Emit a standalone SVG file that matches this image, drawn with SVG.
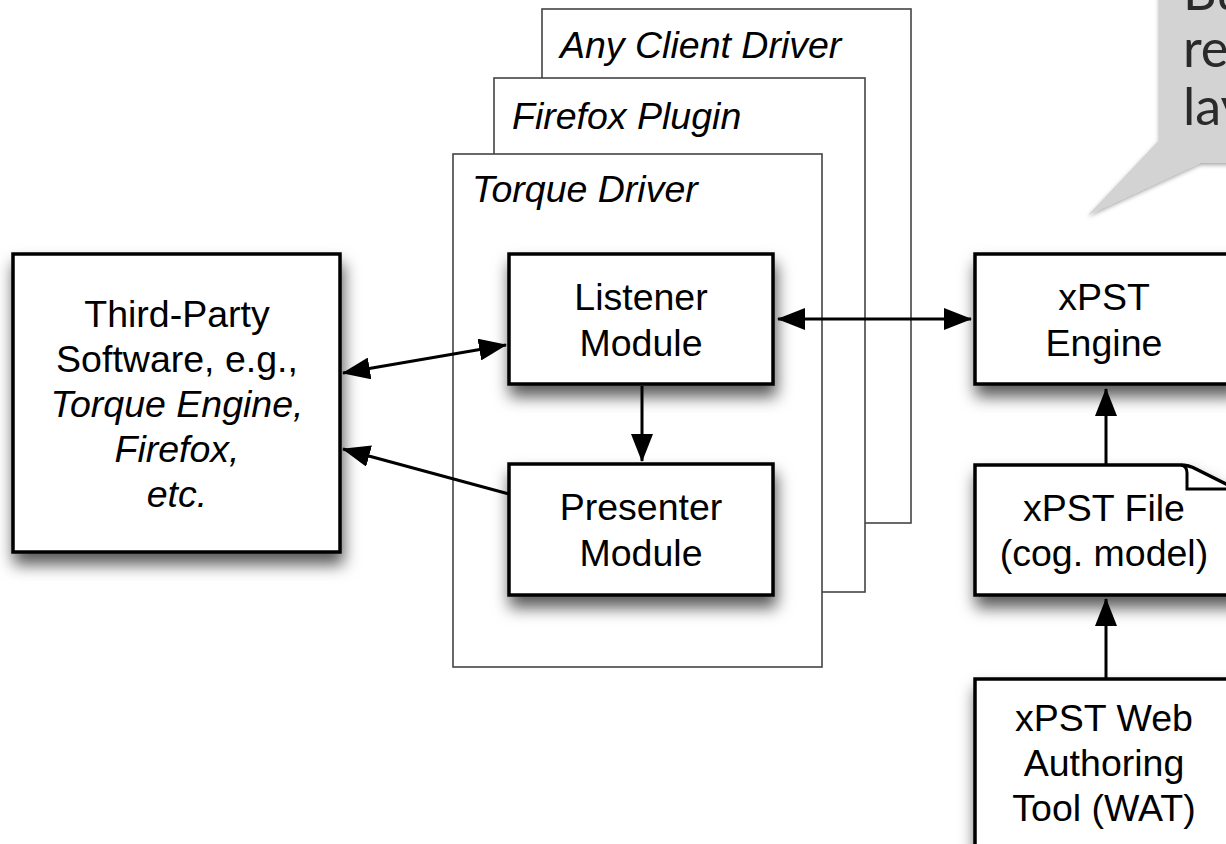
<svg xmlns="http://www.w3.org/2000/svg" width="1226" height="844" viewBox="0 0 1226 844">
<style>
.box{fill:#fff;stroke:#000;stroke-width:3.5}
.frame{fill:#fff;stroke:#444;stroke-width:1.6}
.t{font-family:"Liberation Sans",Arial,sans-serif;font-size:37.5px;fill:#000;text-anchor:middle}
.i{font-style:italic}
.fl{font-family:"Liberation Sans",Arial,sans-serif;font-size:37.5px;font-style:italic;fill:#000}
.conn{stroke:#000;stroke-width:3;fill:none}
.call{font-family:Lato,"Open Sans",sans-serif;font-size:52px;fill:#2a2a2a}
</style>
<defs>
<filter id="sh" x="-20%" y="-20%" width="150%" height="170%">
<feDropShadow dx="2" dy="11" stdDeviation="8" flood-color="#000" flood-opacity="0.65"/>
</filter>
<filter id="sh2" x="-20%" y="-20%" width="150%" height="160%">
<feDropShadow dx="0" dy="2" stdDeviation="2" flood-color="#000" flood-opacity="0.35"/>
</filter>
<marker id="ah" viewBox="0 0 28 22" refX="27" refY="11" markerWidth="28" markerHeight="22" markerUnits="userSpaceOnUse" orient="auto-start-reverse">
<path d="M0,0 L28,11 L0,22 z" fill="#000"/>
</marker>
</defs>
<rect width="1226" height="844" fill="#fff"/>

<g id="callout">
<path d="M1159,-10 H1240 V163 H1200 L1088,215 L1159,140 Z" fill="#d3d3d3" filter="url(#sh2)"/>
<text class="call" x="1183" y="10">Bu</text>
<text class="call" x="1183" y="67">re</text>
<text class="call" x="1183" y="125">lay</text>
</g>

<g id="any-client-driver">
<rect class="frame" x="542" y="9" width="369" height="514"/>
<text class="fl" x="560" y="58">Any Client Driver</text>
</g>
<g id="firefox-plugin">
<rect class="frame" x="494" y="78" width="371" height="514"/>
<text class="fl" x="512" y="129">Firefox Plugin</text>
</g>
<g id="torque-driver">
<rect class="frame" x="453" y="154" width="369" height="513"/>
<text class="fl" x="472" y="202">Torque Driver</text>
</g>

<g id="third-party">
<rect class="box" x="13" y="254" width="327" height="298" filter="url(#sh)"/>
<text class="t" x="177" y="327">Third-Party</text>
<text class="t" x="177" y="372">Software, e.g.,</text>
<text class="t i" x="177" y="417">Torque Engine,</text>
<text class="t i" x="177" y="462">Firefox,</text>
<text class="t i" x="177" y="507">etc.</text>
</g>

<g id="listener">
<rect class="box" x="509" y="254" width="264" height="130" filter="url(#sh)"/>
<text class="t" x="641" y="310">Listener</text>
<text class="t" x="641" y="356">Module</text>
</g>

<g id="presenter">
<rect class="box" x="509" y="464" width="264" height="131" filter="url(#sh)"/>
<text class="t" x="641" y="520">Presenter</text>
<text class="t" x="641" y="566">Module</text>
</g>

<g id="xpst-engine">
<rect class="box" x="975" y="254" width="262" height="130" filter="url(#sh)"/>
<text class="t" x="1104" y="310">xPST</text>
<text class="t" x="1104" y="356">Engine</text>
</g>

<g id="xpst-file">
<path class="box" d="M975,465 H1180 Q1189,465 1196,469 L1240,491 V595 H975 Z" filter="url(#sh)"/>
<path d="M1181,465 Q1187,466 1187,473 V489 H1240" fill="none" stroke="#000" stroke-width="3"/>
<text class="t" x="1104" y="521">xPST File</text>
<text class="t" x="1104" y="566">(cog. model)</text>
</g>

<g id="xpst-wat">
<rect class="box" x="975" y="679" width="262" height="180" filter="url(#sh)"/>
<text class="t" x="1104" y="731">xPST Web</text>
<text class="t" x="1104" y="776">Authoring</text>
<text class="t" x="1104" y="821">Tool (WAT)</text>
</g>

<g id="connectors">
<line class="conn" x1="343" y1="373" x2="506" y2="345" marker-start="url(#ah)" marker-end="url(#ah)"/>
<line class="conn" x1="509" y1="494" x2="343" y2="449" marker-end="url(#ah)"/>
<line class="conn" x1="642" y1="386" x2="642" y2="461" marker-end="url(#ah)"/>
<line class="conn" x1="778" y1="319" x2="971" y2="319" marker-start="url(#ah)" marker-end="url(#ah)"/>
<line class="conn" x1="1106" y1="465" x2="1106" y2="389" marker-end="url(#ah)"/>
<line class="conn" x1="1106" y1="679" x2="1106" y2="599" marker-end="url(#ah)"/>
</g>
</svg>
